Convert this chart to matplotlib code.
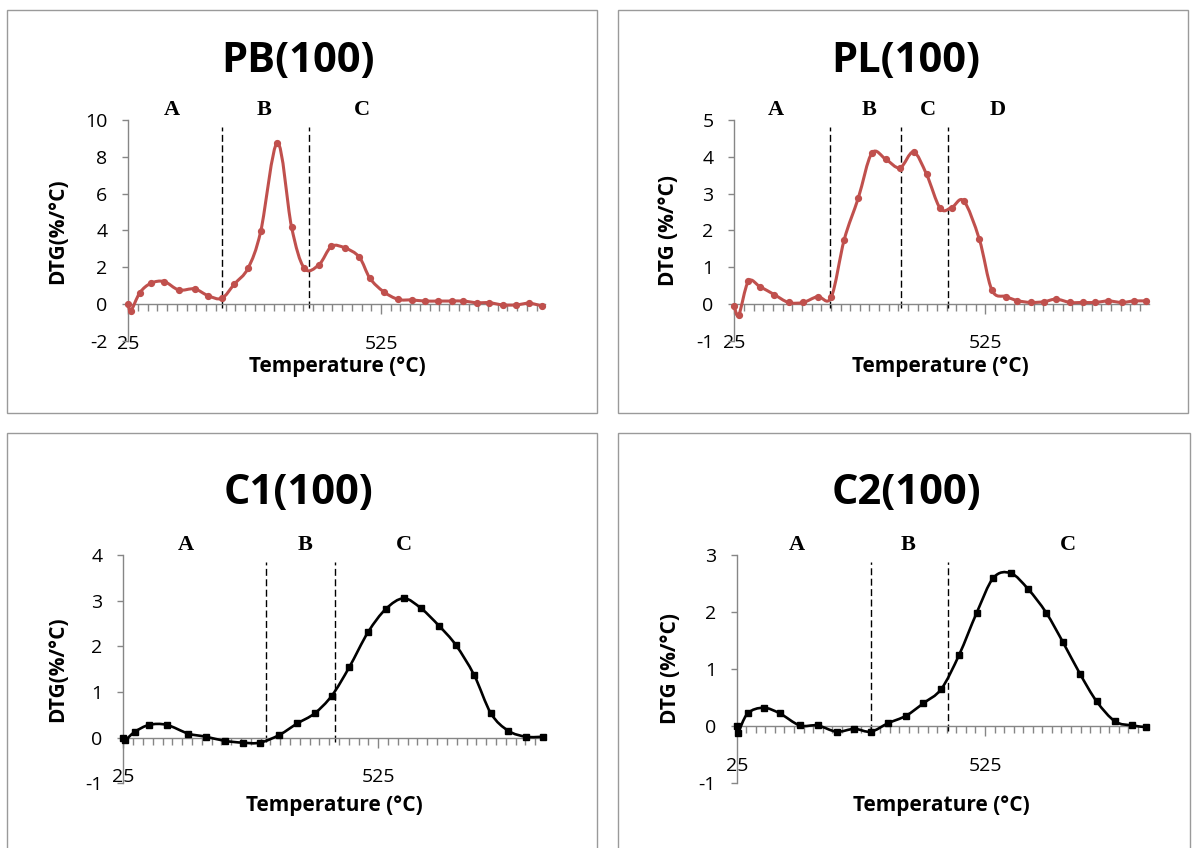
import numpy as np
import matplotlib
matplotlib.use('Agg')
import matplotlib.pyplot as plt
from matplotlib.patches import Rectangle, PathPatch
from matplotlib.path import Path
from matplotlib.ticker import FixedLocator

plt.rcParams['font.family'] = 'Open Sans'
plt.rcParams['axes.unicode_minus'] = False

# DTG curves (temperature in C, DTG in %/C)
pb_temp = [25, 30, 48, 70, 96, 125, 156, 183, 210, 235, 262, 287, 320, 348, 373, 402, 427,
           454, 482, 503, 530, 559, 586, 612, 638, 665, 688, 714, 739, 766, 792, 818, 843]
pb_dtg = [0.0, -0.38, 0.62, 1.13, 1.22, 0.76, 0.82, 0.45, 0.31, 1.09, 1.95, 3.95, 8.76, 4.18, 1.95, 2.13, 3.13,
          3.04, 2.55, 1.40, 0.67, 0.25, 0.22, 0.16, 0.16, 0.16, 0.16, 0.07, 0.07, -0.05, -0.05, 0.04, -0.1]

pl_temp = [25, 34, 53, 76, 105, 133, 162, 191, 218, 244, 272, 299, 327, 355, 382, 408, 435,
           458, 482, 513, 538, 566, 589, 615, 642, 666, 694, 720, 744, 770, 797, 821, 845]
pl_dtg = [-0.07, -0.3, 0.61, 0.47, 0.25, 0.04, 0.04, 0.2, 0.18, 1.75, 2.88, 4.1, 3.93, 3.7, 4.13, 3.52, 2.6,
          2.62, 2.8, 1.76, 0.38, 0.2, 0.09, 0.04, 0.06, 0.13, 0.04, 0.04, 0.04, 0.08, 0.04, 0.08, 0.08]

c1_temp = [25, 28, 48, 76, 110, 152, 187, 224, 259, 293, 331, 366, 400,
           434, 468, 505, 540, 575, 609, 644, 677, 713, 746, 780, 815, 849]
c1_dtg = [0.0, -0.06, 0.13, 0.28, 0.28, 0.09, 0.02, -0.07, -0.11, -0.11, 0.06, 0.31, 0.53,
          0.92, 1.54, 2.31, 2.82, 3.05, 2.83, 2.45, 2.03, 1.37, 0.53, 0.15, 0.02, 0.02]

c2_temp = [25, 27, 47, 79, 112, 152, 188, 226, 262, 295, 330, 366, 401,
           437, 473, 508, 542, 577, 612, 648, 682, 716, 750, 787, 821, 849]
c2_dtg = [0.0, -0.13, 0.22, 0.32, 0.22, 0.01, 0.01, -0.1, -0.05, -0.1, 0.05, 0.18, 0.4,
          0.65, 1.25, 1.98, 2.6, 2.68, 2.4, 1.99, 1.47, 0.92, 0.43, 0.08, 0.01, -0.02]

# stage boundaries (dashed lines) and stage letters
pb_bounds = [210, 383]
pl_bounds = [216, 358, 451]
c1_bounds = [305, 440]
c2_bounds = [295, 451]

pb_stages = ['A', 'B', 'C']
pb_stage_t = [111, 294, 487]
pl_stages = ['A', 'B', 'C', 'D']
pl_stage_t = [108, 293, 411, 550]
c1_stages = ['A', 'B', 'C']
c1_stage_t = [148, 381, 575]
c2_stages = ['A', 'B', 'C']
c2_stage_t = [146, 370, 692]

titles = ['PB(100)', 'PL(100)', 'C1(100)', 'C2(100)']
ylabels = ['DTG(%/°C)', 'DTG (%/°C)', 'DTG(%/°C)', 'DTG (%/°C)']
xlabel = 'Temperature (°C)'
xtick_vals = [25, 525]

W, H = 1192, 848
RED = '#C0504D'
GREY = '#868686'


def fx(px):
    return px / W


def fy(py):
    return 1 - py / H


def smooth_path(xs, ys):
    # Excel-like smoothed line: bezier segments through every point
    p = np.column_stack([xs, ys]).astype(float)
    verts = [p[0]]
    codes = [Path.MOVETO]
    n = len(p)
    for k in range(n - 1):
        p0 = p[k - 1] if k > 0 else p[k]
        p3 = p[k + 2] if k + 2 < n else p[k + 1]
        c1 = p[k] + (p[k + 1] - p0) / 6.0
        c2 = p[k + 1] - (p3 - p[k]) / 6.0
        verts += [c1, c2, p[k + 1]]
        codes += [Path.CURVE4] * 3
    return Path(verts, codes)


fig = plt.figure(figsize=(W / 100, H / 100), dpi=100)

# panel frames (x0, y0, x1, y1 in pixels)
frames = [(7, 10, 597, 413), (618, 10, 1188, 413), (7, 433, 597, 860), (618, 433, 1190, 860)]
for x0, y0, x1, y1 in frames:
    fig.patches.append(Rectangle((fx(x0), fy(y1)), fx(x1 - x0), fy(y0) - fy(y1),
                                 transform=fig.transFigure, fill=False,
                                 edgecolor='#9a9a9a', linewidth=1))

# axes boxes in pixels: left, right, top, bottom
boxes = [(128.3, 545.3, 120, 340.8), (734.3, 1148.5, 120, 340.7),
         (123.3, 544.0, 555, 783.3), (736.7, 1146.4, 555, 783)]
ylims = [(-2, 10, 2), (-1, 5, 1), (-1, 4, 1), (-1, 3, 1)]
title_pos = [(298, 62), (906, 62), (298, 494), (906, 494)]
ylab_pos = [(58, 231), (668, 231), (58, 669), (670, 669)]
xlab_pos = [(337, 367), (940, 367), (334, 806), (941, 806)]

series = [
    (pb_temp, pb_dtg, pb_bounds, pb_stages, pb_stage_t, RED, 'o'),
    (pl_temp, pl_dtg, pl_bounds, pl_stages, pl_stage_t, RED, 'o'),
    (c1_temp, c1_dtg, c1_bounds, c1_stages, c1_stage_t, 'black', 's'),
    (c2_temp, c2_dtg, c2_bounds, c2_stages, c2_stage_t, 'black', 's'),
]

for i, (temp, dtg, bounds, stages, stage_t, color, marker) in enumerate(series):
    l, r, t, b = boxes[i]
    ax = fig.add_axes([fx(l), fy(b), fx(r - l), fy(t) - fy(b)])
    ymin, ymax, ystep = ylims[i]
    ax.set_xlim(25, 850)
    ax.set_ylim(ymin, ymax)

    lw = 2.2 if marker == 'o' else 1.9
    ms = 4.2 if marker == 'o' else 4.6
    ax.add_patch(PathPatch(smooth_path(temp, dtg), fill=False, edgecolor=color, lw=lw,
                           capstyle='round', joinstyle='round', zorder=3, clip_on=False))
    ax.plot(temp, dtg, linestyle='none', color=color, marker=marker, ms=ms, zorder=4, clip_on=False)

    top = ymax - 0.03 * (ymax - ymin)
    for xb in bounds:
        ax.plot([xb, xb], [-0.02 * (ymax - ymin), top], color='black', lw=1.0,
                linestyle=(0, (5, 2.5)), zorder=2)

    for s, ts in zip(stages, stage_t):
        ax.text(ts, 1.045, s, transform=ax.get_xaxis_transform(), ha='center', va='center',
                fontsize=16, fontweight='bold', family='Liberation Serif', clip_on=False)

    for side in ['top', 'right']:
        ax.spines[side].set_visible(False)
    ax.spines['left'].set_color(GREY)
    ax.spines['bottom'].set_color(GREY)
    ax.spines['left'].set_linewidth(1)
    ax.spines['bottom'].set_linewidth(1)
    ax.spines['bottom'].set_position(('data', 0))

    ax.set_yticks(np.arange(ymin, ymax + 0.001, ystep))
    ax.set_yticklabels([str(int(v)) for v in np.arange(ymin, ymax + 0.001, ystep)])
    ax.tick_params(axis='y', direction='out', length=4, width=1, color=GREY,
                   labelsize=14, pad=11)

    ax.set_xticks(xtick_vals)
    ax.set_xticklabels([str(v) for v in xtick_vals])
    ax.xaxis.set_minor_locator(FixedLocator(np.arange(25, 851, 500 / 26)))
    ax.tick_params(axis='x', which='major', direction='out', length=7, width=1, color=GREY,
                   labelsize=14, pad=15)
    ax.tick_params(axis='x', which='minor', direction='out', length=5, width=1, color=GREY)
    ax.patch.set_alpha(0)

    fig.text(fx(title_pos[i][0]), fy(title_pos[i][1]), titles[i], ha='center', va='center',
             fontsize=30, fontweight='bold')
    fig.text(fx(ylab_pos[i][0]), fy(ylab_pos[i][1]), ylabels[i], ha='center', va='center',
             rotation=90, fontsize=15, fontweight='bold')
    fig.text(fx(xlab_pos[i][0]), fy(xlab_pos[i][1]), xlabel, ha='center', va='center',
             fontsize=15, fontweight='bold')

fig.savefig('out.png', dpi=100)
